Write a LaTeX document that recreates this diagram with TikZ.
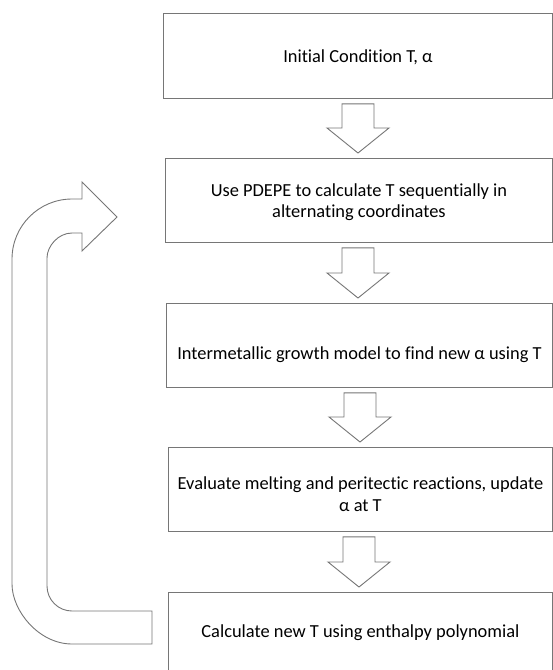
\documentclass[tikz,border=0pt]{standalone}
\usepackage{fontspec}
\setmainfont{Carlito}[Ligatures=NoCommon]
\usetikzlibrary{calc}

\definecolor{linegray}{RGB}{118,118,118}

\tikzset{
  stepbox/.style={draw=linegray, line width=0.9pt, anchor=north west,
    inner sep=0pt},
  steptext/.style={inner sep=0pt, align=center,
    font=\fontsize{18.4}{21.5}\selectfont},
  flowarrow/.style={draw=linegray, line width=0.9pt, fill=white, line join=miter},
}

% hollow block arrow from the bottom of box #1 to the top of box #2, centred at x = #3
\newcommand{\flowstep}[3]{%
  \draw[flowarrow] let \p1=(#1.south), \p2=(#2.north) in
    (#3pt-16pt,\y1-5pt) -- (#3pt+16pt,\y1-5pt) -- (#3pt+16pt,\y2+30pt)
    -- (#3pt+31pt,\y2+30pt) -- (#3pt,\y2+5pt) -- (#3pt-31pt,\y2+30pt)
    -- (#3pt-16pt,\y2+30pt) -- cycle;}

\begin{document}
\begin{tikzpicture}[x=1pt, y=-1pt]
  \useasboundingbox (0,0) rectangle (553,670);
  \clip (0,0) rectangle (553,670);

  % process boxes
  \node[stepbox, minimum width=389pt, minimum height=85pt] (init) at (163,13) {};
  \node[stepbox, minimum width=387pt, minimum height=84pt] (pdepe) at (165,158) {};
  \node[stepbox, minimum width=386pt, minimum height=84pt] (growth) at (166,303) {};
  \node[stepbox, minimum width=384pt, minimum height=84pt] (melt) at (168,447) {};
  \node[stepbox, minimum width=384pt, minimum height=84pt] (enth) at (168,592) {};

  % box captions
  \node[steptext] (inittext) at ([yshift=-1.5pt]init.center)
    {Initial Condition T, α};
  \node[steptext] (pdepetext) at ([yshift=-1.5pt]pdepe.center)
    {Use PDEPE to calculate T sequentially in\\alternating coordinates};
  \node[steptext] (growthtext) at ([yshift=-9pt]growth.center)
    {Intermetallic growth model to find new α using T};
  \node[steptext] (melttext) at ([yshift=-4.5pt]melt.center)
    {Evaluate melting and peritectic reactions, update\\α at T};
  \node[steptext] (enthtext) at ([yshift=2pt]enth.center)
    {Calculate new T using enthalpy polynomial};

  \flowstep{init}{pdepe}{358}
  \flowstep{pdepe}{growth}{358}
  \flowstep{growth}{melt}{360}
  \flowstep{melt}{enth}{359}

  % U-shaped return arrow on the left
  \draw[flowarrow]
    (152,644) -- (72,644) .. controls (38.9,644) and (12,610.9) .. (12,584)
    -- (12,259) .. controls (12,225.9) and (38.9,199) .. (72,199)
    -- (82,199) -- (82,182) -- (117,217) -- (82,251) -- (82,233) -- (72,233)
    .. controls (58.2,233) and (47,246.2) .. (47,258)
    -- (47,586) .. controls (47,599.8) and (58.2,611) .. (72,611)
    -- (152,611) -- cycle;
\end{tikzpicture}
\end{document}
